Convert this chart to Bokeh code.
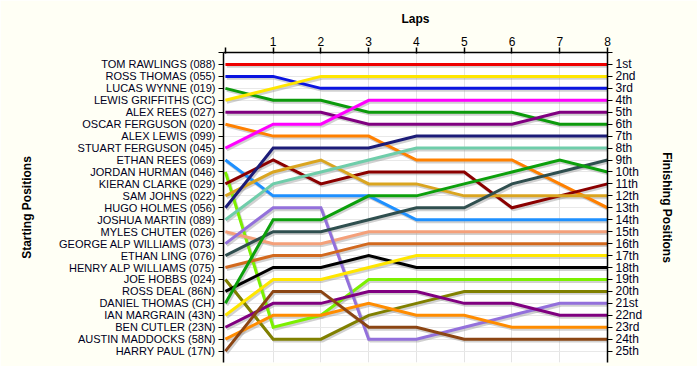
from bokeh.plotting import figure
from bokeh.models import FixedTicker, LinearAxis, Range1d, ColumnDataSource
from bokeh.embed import file_html
from bokeh.resources import INLINE

drivers = [
    "TOM RAWLINGS (088)", "ROSS THOMAS (055)", "LUCAS WYNNE (019)", "LEWIS GRIFFITHS (CC)",
    "ALEX REES (027)", "OSCAR FERGUSON (020)", "ALEX LEWIS (099)", "STUART FERGUSON (045)",
    "ETHAN REES (069)", "JORDAN HURMAN (046)", "KIERAN CLARKE (029)", "SAM JOHNS (022)",
    "HUGO HOLMES (056)", "JOSHUA MARTIN (089)", "MYLES CHUTER (026)", "GEORGE ALP WILLIAMS (073)",
    "ETHAN LING (076)", "HENRY ALP WILLIAMS (075)", "JOE HOBBS (024)", "ROSS DEAL (86N)",
    "DANIEL THOMAS (CH)", "IAN MARGRAIN (43N)", "BEN CUTLER (23N)", "AUSTIN MADDOCKS (58N)",
    "HARRY PAUL (17N)",
]

colors = [
    "#ee0000", "#0a14e0", "#0c9a0c", "#ffe600", "#800080", "#ff8000", None, "#ff00ff",
    "#1e90ff", "#7cf000", "#8b0000", "#daa520", "#1c1c78", "#6fcdaa", "#f4a07a", "#9370db",
    "#2f4f4f", "#d2691e", "#808000", "#000000", "#0ca00c", "#ffe600", "#800080", "#ff8c00",
    "#8b4513",
]

laps = [0, 1, 2, 3, 4, 5, 6, 7, 8]

# positions per lap, in driver order (None = no data)
lap_0 = [1, 2, 3, 4, 5, 6, None, 8, 9, 10, 11, 12, 13, 14, 15, 16, 17, 18, 19, 20, 21, 22, 23, 24, 25]
lap_1 = [1, 2, 4, 3, 5, 7, None, 6, 12, 23, 9, 10, 8, 11, 16, 13, 15, 17, 24, 18, 14, 19, 21, 22, 20]
lap_2 = [1, 3, 4, 2, 5, 7, None, 6, 12, 22, 11, 9, 8, 10, 16, 13, 15, 17, 24, 18, 14, 19, 21, 22, 20]
lap_3 = [1, 3, 5, 2, 6, 7, None, 4, 12, 19, 10, 11, 8, 9, 15, 24, 14, 16, 22, 17, 12, 18, 20, 21, 23]
lap_4 = [1, 3, 5, 2, 6, 9, None, 4, 14, 19, 10, 11, 7, 8, 15, 24, 13, 16, 21, 18, 12, 17, 20, 22, 23]
lap_5 = [1, 3, 5, 2, 6, 9, None, 4, 14, 19, 10, 12, 7, 8, 15, 23, 13, 16, 20, 18, 11, 17, 21, 22, 24]
lap_6 = [1, 3, 5, 2, 6, 9, None, 4, 14, 19, 13, 12, 7, 8, 15, 22, 11, 16, 20, 18, 10, 17, 21, 23, 24]
lap_7 = [1, 3, 6, 2, 5, 11, None, 4, 14, 19, 12, 12, 7, 8, 15, 21, 10, 16, 20, 18, 9, 17, 22, 23, 24]
lap_8 = [1, 3, 6, 2, 5, 13, None, 4, 14, 19, 11, 12, 7, 8, 15, 21, 9, 16, 20, 18, 10, 17, 22, 23, 24]

finish_labels = ["1st", "2nd", "3rd", "4th", "5th", "6th", "7th", "8th", "9th", "10th",
                 "11th", "12th", "13th", "14th", "15th", "16th", "17th", "18th", "19th",
                 "20th", "21st", "22nd", "23rd", "24th", "25th"]

all_laps = [lap_0, lap_1, lap_2, lap_3, lap_4, lap_5, lap_6, lap_7, lap_8]

xs, ys, cs = [], [], []
for i, name in enumerate(drivers):
    if lap_0[i] is None:
        continue
    xs.append(laps)
    ys.append([lap[i] for lap in all_laps])
    cs.append(colors[i])

FONT = "Liberation Sans"
BG = "#fffff5"

p = figure(frame_width=384, frame_height=310, x_range=Range1d(-0.04, 8.0), y_range=Range1d(25.95, 0),
           x_axis_location="above", output_backend="svg", toolbar_location=None,
           min_border_left=223, min_border_right=90, min_border_top=52, min_border_bottom=4,
           background_fill_color="white", border_fill_color=BG, outline_line_color=None)

# shadows
shadow_dx = 0.03
shadow_dy = 0.16
sh = ColumnDataSource(dict(xs=[[v + shadow_dx for v in x] for x in xs],
                           ys=[[v + shadow_dy for v in y] for y in ys]))
p.multi_line("xs", "ys", source=sh, line_color="#9a9a9a", line_alpha=0.45, line_width=3)

src = ColumnDataSource(dict(xs=xs, ys=ys, color=cs))
p.multi_line("xs", "ys", source=src, line_color="color", line_width=3, line_join="miter")

# top axis
xa = p.xaxis[0]
xa.ticker = FixedTicker(ticks=laps)
xa.major_label_overrides = {0: ""}
xa.axis_label = "Laps"
xa.axis_label_text_font = FONT
xa.axis_label_text_font_style = "bold"
xa.axis_label_text_font_size = "12px"
xa.axis_label_text_color = "black"
xa.axis_label_standoff = 8
xa.major_label_text_font = FONT
xa.major_label_text_font_size = "12px"
xa.major_label_standoff = 2
xa.major_tick_out = 5
xa.major_tick_in = 1
xa.minor_tick_line_color = None
xa.axis_line_width = 1.5
xa.major_tick_line_width = 1.5
xa.axis_line_color = "black"
xa.major_label_text_color = "black"

# left axis
ya = p.yaxis[0]
ya.ticker = FixedTicker(ticks=list(range(0, 27)))
left_over = {0: "", 26: ""}
for i, n in enumerate(drivers):
    left_over[i + 1] = n
ya.major_label_overrides = left_over
ya.axis_label = "Starting Positions"
ya.axis_label_text_font = FONT
ya.axis_label_text_font_style = "bold"
ya.axis_label_text_font_size = "12px"
ya.axis_label_text_color = "black"
ya.axis_label_standoff = 22
ya.major_label_text_font = FONT
ya.major_label_text_font_size = "11px"
ya.major_label_standoff = 3
ya.major_tick_out = 5
ya.major_tick_in = 0
ya.minor_tick_line_color = None
ya.axis_line_width = 1.5
ya.major_tick_line_width = 1
ya.major_label_text_color = "#000022"

# right axis
ra = LinearAxis(ticker=FixedTicker(ticks=list(range(0, 27))))
right_over = {0: "", 26: ""}
for i, lab in enumerate(finish_labels):
    right_over[i + 1] = lab
ra.major_label_overrides = right_over
ra.axis_label = "Finishing Positions"
ra.axis_label_text_font = FONT
ra.axis_label_text_font_style = "bold"
ra.axis_label_text_font_size = "12px"
ra.axis_label_text_color = "black"
ra.axis_label_standoff = 15
ra.major_label_text_font = FONT
ra.major_label_text_font_size = "12px"
ra.major_label_standoff = 3
ra.major_tick_out = 5
ra.major_tick_in = 0
ra.minor_tick_line_color = None
ra.axis_line_width = 1.5
ra.major_tick_line_width = 1
ra.major_label_text_color = "#000022"
p.add_layout(ra, "right")

p.xgrid.ticker = FixedTicker(ticks=laps[1:])
p.ygrid.ticker = FixedTicker(ticks=list(range(1, 26)))
p.xgrid.grid_line_color = "#e4e4e4"
p.ygrid.grid_line_color = "#e8e8e8"

html = file_html(p, INLINE)
html = html.replace("<body>", '<body style="background-color:%s;">' % BG, 1)
open("out.html", "w").write(html)
